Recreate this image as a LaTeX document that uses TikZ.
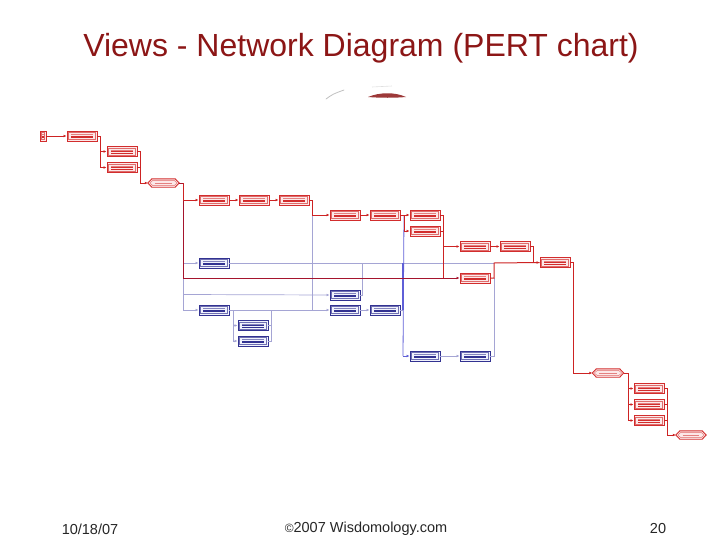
\documentclass[tikz,border=0pt]{standalone}
\usepackage{fontspec}
\setmainfont{Liberation Sans}
\usetikzlibrary{arrows.meta}
\definecolor{titlered}{RGB}{140,22,22}
\definecolor{boxred}{RGB}{210,45,45}
\definecolor{pinkfill}{RGB}{252,232,232}
\definecolor{linered}{RGB}{205,35,35}
\definecolor{darkline}{RGB}{165,20,45}
\definecolor{boxblue}{RGB}{50,50,145}
\definecolor{bluefill}{RGB}{240,242,252}
\definecolor{grayline}{RGB}{165,165,212}
\definecolor{blueline}{RGB}{95,95,215}
\tikzset{
  taskbox/.style={draw=#1, line width=0.9pt, minimum width=30pt, minimum height=10pt, inner sep=0pt,
    path picture={
      \draw[#1!70, line width=0.4pt] ([xshift=1.6pt,yshift=-1.6pt]path picture bounding box.north west) rectangle ([xshift=-1.6pt,yshift=1.6pt]path picture bounding box.south east);
      \draw[#1!60, line width=0.3pt] ([xshift=4pt,yshift=1.5pt]path picture bounding box.west) -- ([xshift=-4pt,yshift=1.5pt]path picture bounding box.east);
      \draw[#1, line width=0.5pt] ([xshift=4pt,yshift=0pt]path picture bounding box.west) -- ([xshift=-4pt,yshift=0pt]path picture bounding box.east);
      \draw[#1, line width=0.5pt] ([xshift=4pt,yshift=-1.6pt]path picture bounding box.west) -- ([xshift=-4pt,yshift=-1.6pt]path picture bounding box.east);
    }},
  rbox/.style={taskbox=boxred, fill=pinkfill},
  bbox/.style={taskbox=boxblue, fill=bluefill},
  hexspot/.style={minimum width=31pt, minimum height=8pt, inner sep=0pt},
  rline/.style={draw=linered, line width=1pt},
  dline/.style={draw=darkline, line width=1pt},
  gline/.style={draw=grayline, line width=0.7pt},
  bline/.style={draw=blueline, line width=0.8pt},
  tip/.style={-{Latex[length=3pt,width=2.8pt]}},
  foot/.style={font=\fontsize{14.5}{17}\selectfont, text=black!85},
}
\newcommand\hexdraw[1]{%
  \draw[boxred, line width=0.9pt, fill=pinkfill] (#1.west) -- ([xshift=4pt]#1.north west) -- ([xshift=-4pt]#1.north east) -- (#1.east) -- ([xshift=-4pt]#1.south east) -- ([xshift=4pt]#1.south west) -- cycle;
  \draw[boxred!70, line width=0.4pt] ([xshift=2pt]#1.west) -- ([xshift=5pt,yshift=-1.6pt]#1.north west) -- ([xshift=-5pt,yshift=-1.6pt]#1.north east) -- ([xshift=-2pt]#1.east) -- ([xshift=-5pt,yshift=1.6pt]#1.south east) -- ([xshift=5pt,yshift=1.6pt]#1.south west) -- cycle;
  \draw[boxred!60, line width=0.3pt] ([xshift=7pt]#1.west) -- ([xshift=-7pt]#1.east);}
\begin{document}
\begin{tikzpicture}[x=1pt,y=-1pt]
\useasboundingbox (0,0) rectangle (728,546);
% title
\node[text=titlered, font=\fontsize{32}{38}\selectfont] (title) at (361,48) {Views - Network Diagram (PERT chart)};
% decoration
\draw[black!25, line width=0.8pt, line cap=round] (326,99) .. controls (333,94) .. (344,90);
\draw[black!12, line width=0.6pt] (372,87) -- (392,86);
\fill[titlered!85] (368,97) .. controls (380,92) and (395,92) .. (406,97) .. controls (395,98) and (380,98) .. (368,97) -- cycle;
% footer
\node[foot] (date) at (90,529) {10/18/07};
\node[foot] (copy) at (366,529) {{\fontsize{12}{14}\selectfont\textcopyright}2007 Wisdomology.com};
\node[foot] (page) at (658,529) {20};

% red nodes
\node[rbox, minimum width=6pt] (A) at (43,136) {};
\node[rbox] (B) at (82,136) {};
\node[rbox] (C) at (122,151.5) {};
\node[rbox] (D) at (122,167.5) {};
\node[hexspot] (E) at (163.5,183) {};
\node[rbox] (F1) at (214,200) {};
\node[rbox] (F2) at (254,200) {};
\node[rbox] (F3) at (294,200) {};
\node[rbox] (G1) at (345,215) {};
\node[rbox] (G2) at (385,215) {};
\node[rbox] (G3) at (425,215) {};
\node[rbox] (G4) at (425,231) {};
\node[rbox] (H1) at (475,246.5) {};
\node[rbox] (H2) at (515,246.5) {};
\node[rbox] (H3) at (475,278) {};
\node[rbox] (I) at (555,262.5) {};
\node[hexspot] (J) at (608,373) {};
\node[rbox] (K1) at (649,388.5) {};
\node[rbox] (K2) at (649,404.5) {};
\node[rbox] (K3) at (649,420.5) {};
\node[hexspot, minimum width=30pt] (L) at (691,435) {};
% blue nodes
\node[bbox] (b1) at (214,263) {};
\node[bbox] (b2) at (214,310) {};
\node[bbox] (b3) at (253,325.5) {};
\node[bbox] (b4) at (253,341) {};
\node[bbox] (b5) at (345,295) {};
\node[bbox] (b6) at (345,310) {};
\node[bbox] (b7) at (385,310) {};
\node[bbox] (b8) at (425,356) {};
\node[bbox] (b9) at (475,356) {};
\hexdraw{E}\hexdraw{J}\hexdraw{L}

% junction coordinates
\coordinate (jB) at (100,136);
\coordinate (jCD) at (140,183);
\coordinate (jE) at (183,183);
\coordinate (jE2) at (183,278);
\coordinate (jE3) at (183,310);
\coordinate (jE4) at (183,263);
\coordinate (jE5) at (183,294.5);
\coordinate (jF) at (312,200);
\coordinate (jF2) at (312,310);
\coordinate (jG) at (404,215);
\coordinate (jGb) at (403,263);
\coordinate (jGc) at (403,310);
\coordinate (jGd) at (403,356);
\coordinate (jG3) at (443,215);
\coordinate (jG3a) at (443,231);
\coordinate (jG3h) at (443,246.5);
\coordinate (jG3b) at (443,278);
\coordinate (jH2) at (533,246.5);
\coordinate (jH3) at (494,278);
\coordinate (jH3b) at (494,263);
\coordinate (jI) at (573,262.5);
\coordinate (jJ) at (628,373);
\coordinate (jK) at (667,388.5);
\coordinate (jK2) at (667,404.5);
\coordinate (jK3) at (667,420.5);
\coordinate (jL) at (667,435);
\coordinate (jb2) at (233,310);
\coordinate (jb34) at (271,310);
\coordinate (jb5) at (362,263);

% gray / blue connectors (under red)
\draw[gline] (b1.east) -- (jH3b);
\draw[gline] (jF) -- (jF2);
\draw[gline, tip] (jE4) -- (b1.west);
\draw[gline, tip] (jE5) -- (b5.west);
\draw[gline] (jE2) -- (jE3);
\draw[gline, tip] (jE3) -- (b2.west);
\draw[gline, tip] (b2.east) -- (b6.west);
\draw[gline, tip] (jb2) |- (b3.west);
\draw[gline, tip] (jb2) |- (b4.west);
\draw[gline] (b3.east) -| (jb34);
\draw[gline] (b4.east) -| (jb34);
\draw[gline] (b5.east) -| (jb5);
\draw[gline, tip] (b6.east) -- (b7.west);
\draw[gline] (b7.east) -- (jGc);
\draw[gline, tip] (b8.east) -- (b9.west);
\draw[gline] (b9.east) -| (jH3);
\draw[bline] (jG) -- (jGd);
\draw[blueline, line width=1.8pt] (jGb) -- (jGc);
\draw[bline, tip] (jGd) -- (b8.west);

% red connectors
\draw[rline, tip] (A.east) -- (B.west);
\draw[rline, tip] (B.east) -- (jB) |- (C.west);
\draw[rline, tip] (jB) |- (D.west);
\draw[rline] (C.east) -| (jCD);
\draw[rline] (D.east) -| (jCD);
\draw[rline, tip] (jCD) -- (E.west);
\draw[dline] (E.east) -- (jE) -- (jE2);
\draw[rline, tip] (jE) |- (F1.west);
\draw[dline, tip] (jE2) -- (H3.west);
\draw[rline, tip] (F1.east) -- (F2.west);
\draw[rline, tip] (F2.east) -- (F3.west);
\draw[rline, tip] (F3.east) -- (jF) |- (G1.west);
\draw[rline, tip] (G1.east) -- (G2.west);
\draw[rline, tip] (G2.east) -- (G3.west);
\draw[rline, tip] (jG) |- (G4.west);
\draw[rline] (G3.east) -- (jG3) -- (jG3b);
\draw[rline] (G4.east) -- (jG3a);
\draw[rline, tip] (jG3h) -- (H1.west);
\draw[rline, tip] (H1.east) -- (H2.west);
\draw[rline, tip] (H2.east) -- (jH2) |- (I.west);
\draw[rline] (H3.east) -- (jH3) -- (jH3b) -- (I.west);
\draw[rline, tip] (I.east) -- (jI) |- (J.west);
\draw[rline, tip] (J.east) -- (jJ) |- (K1.west);
\draw[rline, tip] (jJ) |- (K2.west);
\draw[rline, tip] (jJ) |- (K3.west);
\draw[rline] (K1.east) -- (jK) -- (jL);
\draw[rline] (K2.east) -- (jK2);
\draw[rline] (K3.east) -- (jK3);
\draw[rline, tip] (jL) -- (L.west);
\end{tikzpicture}
\end{document}
